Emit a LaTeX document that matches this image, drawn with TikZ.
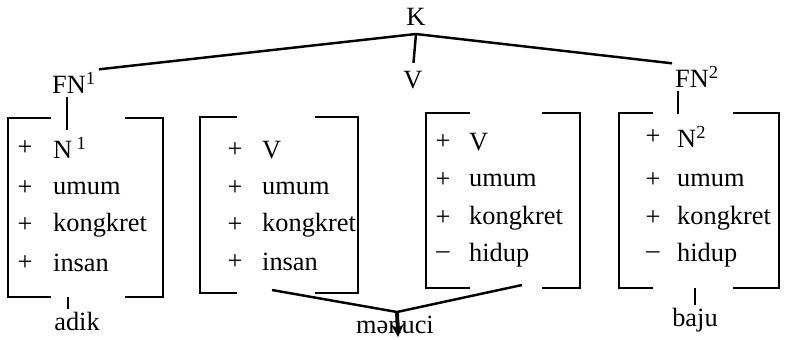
\documentclass[tikz,border=0pt]{standalone}
\usepackage{fontspec}
\setmainfont{Liberation Serif}
\begin{document}
\begin{tikzpicture}[x=0.02cm,y=-0.02cm,>=stealth,line width=1.4pt,
  font=\fontsize{15}{17}\selectfont,
  lbl/.style={inner sep=1pt},
  sgn/.style={inner sep=0pt},
  feat/.style={anchor=west,inner sep=0pt}]
  \useasboundingbox (0,0) rectangle (789,339);
  % tree
  \node[lbl] (k) at (416,17) {K};
  \coordinate (apex) at (416,34);
  \node[lbl] (fn1) at (74,83) {FN\textsuperscript{1}};
  \node[lbl] (v) at (413,80) {V};
  \node[lbl] (fn2) at (697,77) {FN\textsuperscript{2}};
  \draw (fn1.north east) -- (apex) -- (fn2.north west);
  \draw[shorten >=3pt] (apex) -- (v.north);
  \coordinate (fn1b) at (67,130);
  \coordinate (fn2b) at (678,114);
  \draw (fn1.south -| fn1b) -- (fn1b);
  \draw (fn2.south -| fn2b) -- (fn2b);
  % brackets
  \foreach \l/\t/\r/\b/\a/\c in {8/118/163/297/51/125,200/117/358/293/237/315,
      426/113/580/288/470/542,619/113/779/288/653/733}{
    \draw (\a,\t) -- (\l,\t) -- (\l,\b) -- (\a,\b);
    \draw (\c,\t) -- (\r,\t) -- (\r,\b) -- (\c,\b);
  }
  % features
  \foreach \y/\s/\w [count=\i] in {148/+/{N\,\textsuperscript{1}},188/+/umum,225/+/kongkret,263/+/insan}{
    \node[sgn] (sa\i) at (25,\y) {\s};
    \node[feat] (fa\i) at (52,\y) {\w};
  }
  \foreach \y/\s/\w [count=\i] in {150/+/V,188/+/umum,225/+/kongkret,262/+/insan}{
    \node[sgn] (sb\i) at (235,\y) {\s};
    \node[feat] (fb\i) at (261,\y) {\w};
  }
  \foreach \y/\s/\w [count=\i] in {142/+/V,180/+/umum,218/+/kongkret,255/--/hidup}{
    \node[sgn] (sc\i) at (443,\y) {\s};
    \node[feat] (fc\i) at (468,\y) {\w};
  }
  \foreach \y/\s/\w [count=\i] in {137/+/{N\textsuperscript{2}},180/+/umum,218/+/kongkret,255/--/hidup}{
    \node[sgn] (sd\i) at (653,\y) {\s};
    \node[feat] (fd\i) at (676,\y) {\w};
  }
  % words
  \node[lbl] (adik) at (77,321) {adik};
  \node[lbl] (baju) at (695,320) {baju};
  \node[lbl] (mc) at (395,325) {mənuci};
  \coordinate (b1s) at (68,297);
  \coordinate (b4s) at (695,288);
  \draw (b1s) -- (b1s |- adik.north);
  \draw (b4s) -- (b4s |- baju.north);
  \coordinate (b2s) at (272,290);
  \coordinate (b3s) at (522,285);
  \coordinate (join) at (397,312);
  \coordinate (tip) at (398,337);
  \draw (b2s) -- (join) -- (b3s);
  \draw[->,line width=2.2pt] (join) -- (tip);
\end{tikzpicture}
\end{document}
